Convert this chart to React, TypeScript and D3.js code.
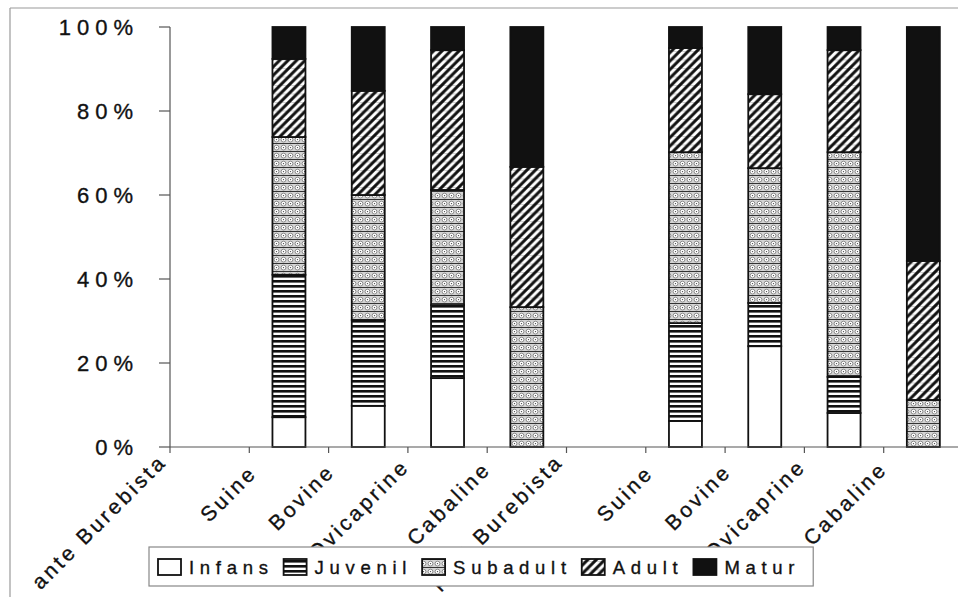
import React, { useEffect, useRef } from 'react';
import * as d3 from 'd3';

// Categories along the x axis (labels sit on the tick at the left of each band)
const categories = [
  'ante Burebista', 'Suine', 'Bovine', 'Ovicaprine', 'Cabaline',
  'post Burebista', 'Suine', 'Bovine', 'Ovicaprine', 'Cabaline',
];
const seriesNames = ['Infans', 'Juvenil', 'Subadult', 'Adult', 'Matur'];

// Percent values per category
const infans = [0, 7.1, 9.8, 16.4, 0, 0, 6.2, 24.0, 8.1, 0];
const juvenil = [0, 33.9, 20.4, 17.4, 0, 0, 23.3, 10.3, 8.6, 0];
const subadult = [0, 32.8, 29.8, 27.4, 33.3, 0, 40.7, 32.1, 53.5, 11.2];
const adult = [0, 18.6, 24.8, 33.3, 33.4, 0, 24.8, 17.6, 24.3, 33.1];
const matur = [0, 7.6, 15.2, 5.5, 33.3, 0, 5.0, 16.0, 5.5, 55.7];
const yTicks = [0, 20, 40, 60, 80, 100];

const W = 958;
const H = 597;
const FONT = "'Liberation Sans', Arial, sans-serif";

export default function App() {
  const ref = useRef<SVGSVGElement>(null);

  useEffect(() => {
    const svg = d3.select(ref.current);
    svg.selectAll('*').remove();

    const defs = svg.append('defs');
    // Juvenil: horizontal stripes
    const pj = defs.append('pattern').attr('id', 'pJuv').attr('patternUnits', 'userSpaceOnUse')
      .attr('width', 4).attr('height', 5);
    pj.append('rect').attr('width', 4).attr('height', 5).attr('fill', '#fff');
    pj.append('rect').attr('width', 4).attr('height', 2.6).attr('fill', '#111');
    // Subadult: dotted grid
    const ps = defs.append('pattern').attr('id', 'pSub').attr('patternUnits', 'userSpaceOnUse')
      .attr('width', 7).attr('height', 8);
    ps.append('rect').attr('width', 7).attr('height', 8).attr('fill', '#d4d4d4');
    ps.append('line').attr('x1', 0).attr('x2', 7).attr('y1', 7.5).attr('y2', 7.5)
      .attr('stroke', '#333').attr('stroke-width', 1);
    ps.append('circle').attr('cx', 3.5).attr('cy', 3.6).attr('r', 2.4)
      .attr('fill', '#fff').attr('stroke', '#666').attr('stroke-width', 0.7);
    ps.append('circle').attr('cx', 3.5).attr('cy', 3.6).attr('r', 0.7).attr('fill', '#444');
    // Adult: diagonal hatch
    const pa = defs.append('pattern').attr('id', 'pAd').attr('patternUnits', 'userSpaceOnUse')
      .attr('width', 8.5).attr('height', 8.5);
    pa.append('rect').attr('width', 8.5).attr('height', 8.5).attr('fill', '#fff');
    pa.append('line').attr('x1', 0).attr('x2', 8.5).attr('y1', 0.3).attr('y2', 0.3)
      .attr('stroke', '#aaa').attr('stroke-width', 0.6);
    pa.append('path').attr('d', 'M-2.125,2.125L2.125,-2.125M0,8.5L8.5,0M6.375,10.625L10.625,6.375')
      .attr('stroke', '#111').attr('stroke-width', 3);

    const fills: Record<string, string> = {
      Infans: '#fff', Juvenil: 'url(#pJuv)', Subadult: 'url(#pSub)', Adult: 'url(#pAd)', Matur: '#111',
    };

    // Outer chart border (partially cropped in the reference)
    svg.append('line').attr('x1', 10).attr('x2', 10).attr('y1', 8).attr('y2', H)
      .attr('stroke', '#9a9a9a').attr('stroke-width', 1.2);
    svg.append('line').attr('x1', 10).attr('x2', W).attr('y1', 8).attr('y2', 8)
      .attr('stroke', '#9a9a9a').attr('stroke-width', 1.2);

    const keys = categories.map((_, i) => String(i));
    const x = d3.scaleBand<string>().domain(keys).range([170, 963]).paddingInner(0.584).paddingOuter(0.292);
    const step = x.step();
    const y = d3.scaleLinear().domain([0, 100]).range([447, 27]);

    const rows = categories.map((c, i) => ({
      key: String(i), Infans: infans[i], Juvenil: juvenil[i], Subadult: subadult[i], Adult: adult[i], Matur: matur[i],
    }));
    const stacked = d3.stack<any>().keys(seriesNames)(rows);

    const bars = svg.append('g');
    stacked.forEach((layer) => {
      layer.forEach((d: any) => {
        const v = d[1] - d[0];
        if (v <= 0) return;
        bars.append('rect')
          .attr('x', x(d.data.key)!)
          .attr('width', x.bandwidth())
          .attr('y', y(d[1]))
          .attr('height', y(d[0]) - y(d[1]))
          .attr('fill', fills[layer.key])
          .attr('stroke', '#111')
          .attr('stroke-width', 1.8);
      });
    });

    const textStyle = (t: any, size: number, ls: number) =>
      t.attr('font-family', FONT).attr('font-size', size).attr('letter-spacing', ls)
        .attr('fill', '#111').attr('stroke', '#111').attr('stroke-width', 0.35);

    // Y axis
    svg.append('line').attr('x1', 170).attr('x2', 170).attr('y1', y(100)).attr('y2', y(0))
      .attr('stroke', '#555').attr('stroke-width', 1.2);
    yTicks.forEach((t) => {
      svg.append('line').attr('x1', 159).attr('x2', 170).attr('y1', y(t)).attr('y2', y(t))
        .attr('stroke', '#555').attr('stroke-width', 1.2);
      textStyle(svg.append('text').attr('x', 139).attr('y', y(t)).attr('dy', '0.36em')
        .attr('text-anchor', 'end'), 22, 6).text(`${t}%`);
    });

    // X axis
    svg.append('line').attr('x1', 170).attr('x2', W).attr('y1', y(0)).attr('y2', y(0))
      .attr('stroke', '#555').attr('stroke-width', 1.2);
    d3.range(0, categories.length + 1).forEach((i) => {
      const tx = 170 + i * step;
      svg.append('line').attr('x1', tx).attr('x2', tx).attr('y1', y(0)).attr('y2', y(0) + 6)
        .attr('stroke', '#555').attr('stroke-width', 1.2);
    });
    categories.forEach((c, i) => {
      const tx = 170 + i * step;
      const t = textStyle(svg.append('text').attr('text-anchor', 'end'), 21, 3.2).text(c);
      const len = (t.node() as SVGTextElement).getComputedTextLength();
      const shift = -0.1 * (len - 70);
      t.attr('transform', `translate(${tx + 9 + shift},${y(0) + 27 + shift}) rotate(-45)`);
    });

    // Legend
    const lg = svg.append('g');
    const box = lg.append('rect').attr('x', 149).attr('y', 547).attr('height', 39)
      .attr('fill', '#fff').attr('stroke', '#888').attr('stroke-width', 1.2);
    let lx = 158;
    seriesNames.forEach((s) => {
      lg.append('rect').attr('x', lx).attr('y', 559).attr('width', 23).attr('height', 16)
        .attr('fill', fills[s]).attr('stroke', '#111').attr('stroke-width', 1.8);
      const t = textStyle(lg.append('text').attr('x', lx + 31).attr('y', 574), 18.5, 5.7).text(s);
      const len = (t.node() as SVGTextElement).getComputedTextLength();
      lx = lx + 31 + len + 10;
    });
    box.attr('width', lx - 149 + 3);
  }, []);

  return (
    <svg ref={ref} width={W} height={H}
      style={{ position: 'absolute', left: 0, top: 0, background: '#fff' }} />
  );
}
